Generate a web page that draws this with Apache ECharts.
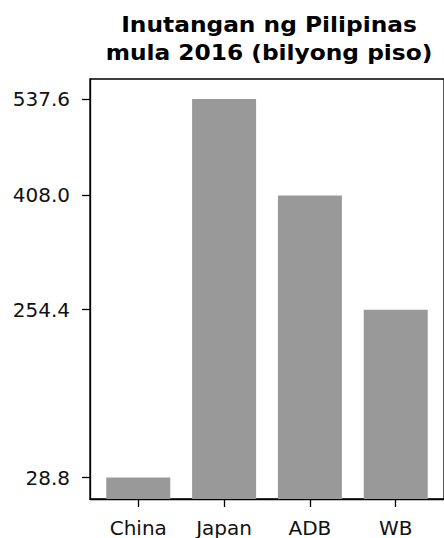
<!DOCTYPE html>
<html>
<head>
<meta charset="utf-8">
<script src="https://cdn.jsdelivr.net/npm/echarts@6/dist/echarts.min.js"></script>
<style>html,body{margin:0;padding:0;background:#fff;}#c{width:444px;height:538px;}</style>
</head>
<body>
<div id="c"></div>
<script>
const titleText = 'Inutangan ng Pilipinas\nmula 2016 (bilyong piso)';
const categories = ['China', 'Japan', 'ADB', 'WB'];
const values = [28.8, 537.6, 408.0, 254.4];
const yTicks = [28.8, 254.4, 408.0, 537.6];

const chart = echarts.init(document.getElementById('c'), null, {renderer: 'svg'});
const font = 'DejaVu Sans';
chart.setOption({
  animation: false,
  backgroundColor: '#fff',
  graphic: [{
    type: 'text', x: 269, y: 10, scaleX: 1.11, scaleY: 1,
    style: {text: titleText, fontFamily: font, fontWeight: 'bold', fontSize: 21, lineHeight: 28.5, fill: '#000', textAlign: 'center'}
  }],
  grid: {left: 90, top: 79, right: -4, bottom: 36, show: true, borderColor: '#000', borderWidth: 1.3, backgroundColor: 'transparent'},
  xAxis: {
    type: 'value', min: -0.5625, max: 3.5625,
    splitLine: {show: false},
    axisLine: {show: true, onZero: false, lineStyle: {color: '#000', width: 1.3}},
    axisTick: {show: true, customValues: [0, 1, 2, 3], length: 8, lineStyle: {color: '#000', width: 1.3}},
    axisLabel: {customValues: [0, 1, 2, 3], formatter: v => categories[Math.round(v)], color: '#111', fontFamily: font, fontSize: 20, margin: 19}
  },
  yAxis: {
    type: 'value', min: 0, max: 564.48,
    splitLine: {show: false},
    axisLine: {show: true, onZero: false, lineStyle: {color: '#000', width: 1.3}},
    axisTick: {show: true, customValues: yTicks, length: 8, lineStyle: {color: '#000', width: 1.3}},
    axisLabel: {customValues: yTicks, formatter: v => Number(v).toFixed(1), color: '#111', fontFamily: font, fontSize: 20, margin: 20}
  },
  series: [{
    type: 'bar',
    data: values.map((v, i) => [i, v]),
    barWidth: 64,
    itemStyle: {color: '#999999'}
  }]
});
</script>
</body>
</html>
